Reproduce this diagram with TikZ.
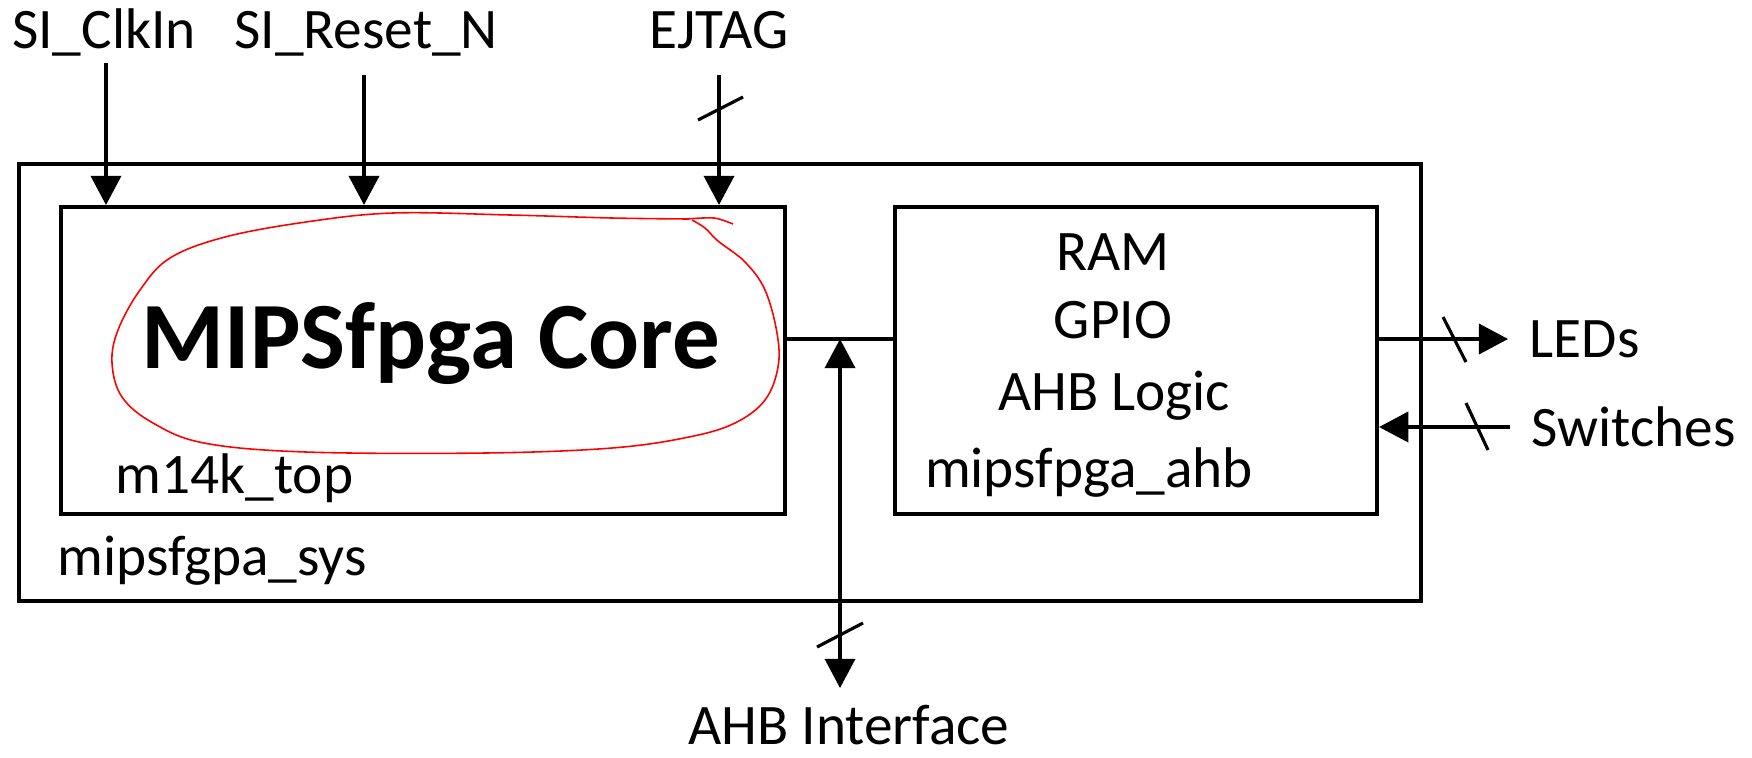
\documentclass[tikz,border=0pt]{standalone}
\usepackage{fontspec}
\setmainfont{Carlito}
\usetikzlibrary{arrows.meta}

\tikzset{
  blk/.style={draw, line width=1.1pt, inner sep=0pt},
  sig/.style={line width=0.9pt},
  lbl/.style={inner sep=0pt, font=\fontsize{16.3}{19}\selectfont},
}

\begin{document}
\begin{tikzpicture}[x=0.01cm, y=-0.01cm, >={Triangle[length=8.3pt, width=8.6pt]}]
  \useasboundingbox (0,0) rectangle (1752,757);

  % 1. module boxes
  \node[blk, minimum width=14.02cm, minimum height=4.37cm] (sys) at (720,382.5) {};
  \node[blk, minimum width=7.24cm, minimum height=3.07cm] (core) at (423,360.5) {};
  \node[blk, minimum width=4.82cm, minimum height=3.07cm] (ahb) at (1136,360.5) {};

  % 2. texts inside the boxes
  \node[inner sep=0pt, anchor=base, font=\fontsize{27}{32}\selectfont\bfseries] (coretitle) at (431,368) {MIPSfpga Core};
  \node[lbl, anchor=base west] (corename) at (115,493) {m14k\_top};
  \node[lbl, anchor=base west] (sysname) at (57,575) {mipsfgpa\_sys};
  \node[lbl, anchor=base] (ram) at (1113,270) {RAM};
  \node[lbl, anchor=base] (gpio) at (1113,338) {GPIO};
  \node[lbl, anchor=base] (logic) at (1114,410) {AHB Logic};
  \node[lbl, anchor=base] (ahbname) at (1089,487) {mipsfpga\_ahb};

  % 3. port labels
  \node[lbl, anchor=base] (clk) at (104,48) {SI\_ClkIn};
  \node[lbl, anchor=base] (rst) at (366,48) {SI\_Reset\_N};
  \node[lbl, anchor=base] (ejtag) at (719,48) {EJTAG};
  \node[lbl, anchor=base] (ahbif) at (849,744) {AHB Interface};
  \node[lbl, anchor=west, inner sep=6pt] (leds) at (1508,339) {LEDs};
  \node[lbl, anchor=west, inner sep=6pt] (sw) at (1510,427) {Switches};

  % 4. input arrows from the top
  \coordinate (clkin) at (106,63);
  \coordinate (rstin) at (364,75);
  \coordinate (ejin) at (719,75);
  \draw[sig, ->] (clkin) -- (clkin |- core.north);
  \draw[sig, ->] (rstin) -- (rstin |- core.north);
  \draw[sig, ->] (ejin) -- (ejin |- core.north);

  % 5. bus between the modules and the AHB port
  \coordinate (bus) at (840,339);
  \coordinate (busout) at (840,688);
  \draw[sig] (core.east |- bus) -- (ahb.west |- bus);
  \draw[sig, <->] (busout) -- (bus);

  % 6. LEDs and switches
  \draw[sig, ->] (ahb.east |- leds) -- (leds.west);
  \draw[sig, ->] (sw.west) -- (ahb.east |- sw);

  % bus width slashes
  \draw[sig] (698,120) -- (743,97);
  \draw[sig] (817,647) -- (863,623);
  \draw[sig] (1443,317) -- (1466,362);
  \draw[sig] (1466,403) -- (1488,450);

  % 7. hand drawn red ring
  \draw[red, line width=0.45pt] plot[smooth, tension=0.6] coordinates {
    (692,220) (705,228) (718,241) (745,262) (765,290) (777,333) (778,367)
    (765,400) (735,423) (689,437) (612,448) (485,453) (306,452) (204,443)
    (153,423) (122,397) (112,363) (118,330) (140,290) (170,258) (225,237)
    (306,222) (393,213) (510,215) (612,218) (689,219)};
  \draw[red, line width=0.45pt] plot[smooth] coordinates {(686,219) (714,218) (733,224)};
\end{tikzpicture}
\end{document}
